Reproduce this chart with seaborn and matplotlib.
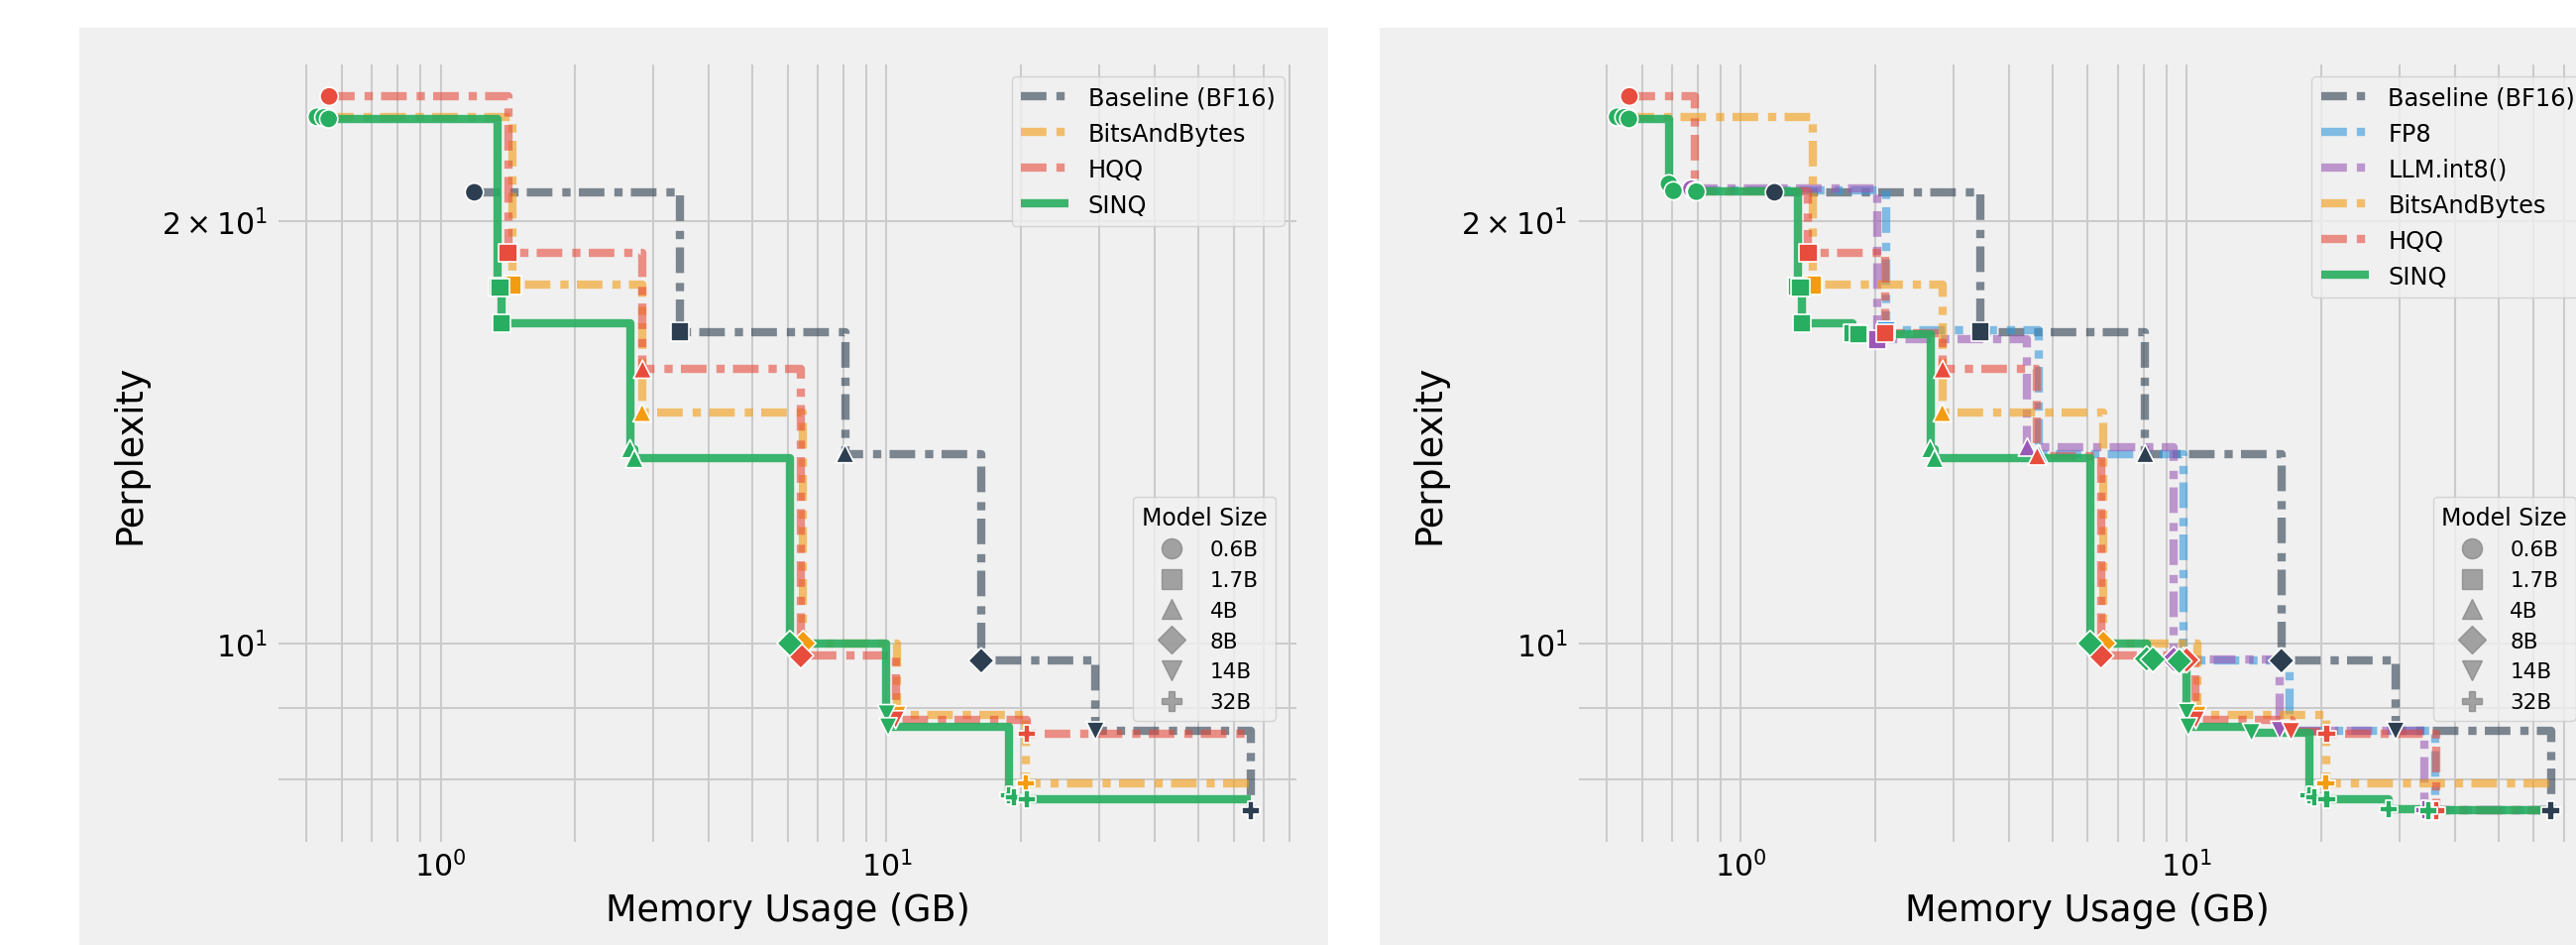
import numpy as np
import pandas as pd
import matplotlib
matplotlib.use("Agg")
import matplotlib.pyplot as plt
import seaborn as sns
from matplotlib.lines import Line2D
from matplotlib.patches import Rectangle

# ---------------- data ----------------
SIZES = ["0.6B", "1.7B", "4B", "8B", "14B", "32B"]

baseline_mem = [1.19, 3.44, 8.07, 16.3, 29.4, 65.5]
baseline_ppl = [20.96, 16.67, 13.65, 9.72, 8.66, 7.60]
baseline_size = ["0.6B", "1.7B", "4B", "8B", "14B", "32B"]

bnb_mem = [0.56, 1.447, 2.83, 6.50, 10.58, 20.5]
bnb_ppl = [23.70, 18.0, 14.6, 10.0, 8.89, 7.95]
bnb_size = ["0.6B", "1.7B", "4B", "8B", "14B", "32B"]

hqq_left_mem = [0.5625, 1.416, 2.836, 6.42, 10.48, 20.6]
hqq_left_ppl = [24.53, 18.97, 15.68, 9.80, 8.82, 8.625]
hqq_left_size = ["0.6B", "1.7B", "4B", "8B", "14B", "32B"]

sinq_left_mem = [0.528, 0.547, 0.561, 1.34, 1.36, 1.37, 2.66, 2.72, 6.07,
                 10.0, 10.08, 18.8, 19.3, 20.6]
sinq_left_ppl = [23.72, 23.70, 23.64, 17.95, 17.93, 16.91, 13.76, 13.54, 10.0,
                 8.91, 8.72, 7.79, 7.77, 7.745]
sinq_left_size = ["0.6B", "0.6B", "0.6B", "1.7B", "1.7B", "1.7B", "4B", "4B", "8B",
                  "14B", "14B", "32B", "32B", "32B"]

fp8_mem = [0.79, 2.116, 4.65, 9.84, 17.0, 36.0]
fp8_ppl = [21.02, 16.71, 13.65, 9.73, 8.67, 7.60]
fp8_size = ["0.6B", "1.7B", "4B", "8B", "14B", "32B"]

llm_int8_mem = [0.775, 2.025, 4.39, 9.35, 16.16, 34.1]
llm_int8_ppl = [21.08, 16.46, 13.80, 9.74, 8.67, 7.61]
llm_int8_size = ["0.6B", "1.7B", "4B", "8B", "14B", "32B"]

hqq_right_mem = [0.5625, 0.79, 1.416, 2.107, 2.836, 4.62, 6.42, 9.99, 10.48, 17.14, 20.6, 36.3]
hqq_right_ppl = [24.53, 21.0, 18.97, 16.64, 15.68, 13.60, 9.80, 9.73, 8.82, 8.655, 8.625, 7.60]
hqq_right_size = ["0.6B", "0.6B", "1.7B", "1.7B", "4B", "4B", "8B", "8B", "14B", "14B", "32B", "32B"]

sinq_right_mem = [0.528, 0.547, 0.561, 0.69, 0.706, 0.795, 1.34, 1.36, 1.37, 1.78, 1.838,
                  2.66, 2.72, 6.07, 8.13, 8.40, 9.62, 10.0, 10.08, 13.97,
                  18.8, 19.3, 20.6, 28.35, 34.8]
sinq_right_ppl = [23.72, 23.70, 23.64, 21.25, 21.01, 20.98, 17.95, 17.93, 16.91, 16.63, 16.60,
                  13.76, 13.54, 10.0, 9.75, 9.74, 9.71, 8.93, 8.72, 8.64,
                  7.79, 7.77, 7.745, 7.62, 7.60]
sinq_right_size = ["0.6B"] * 6 + ["1.7B"] * 5 + ["4B"] * 2 + ["8B"] * 4 + ["14B"] * 3 + ["32B"] * 5

# ---------------- styles ----------------
SIZE_MARKERS = {"0.6B": "o", "1.7B": "s", "4B": "^", "8B": "D", "14B": "v", "32B": "P"}
STYLE = {
    "Baseline (BF16)": dict(line="#2c3e50", mark="#2c3e50", alpha=0.6, dash=True),
    "FP8": dict(line="#3498db", mark="#3498db", alpha=0.6, dash=True),
    "LLM.int8()": dict(line="#9b59b6", mark="#9b59b6", alpha=0.6, dash=True),
    "BitsAndBytes": dict(line="#f39c12", mark="#f39c12", alpha=0.6, dash=True),
    "HQQ": dict(line="#e74c3c", mark="#e74c3c", alpha=0.6, dash=True),
    "SINQ": dict(line="#27ae60", mark="#27ae60", alpha=0.9, dash=False),
}
LW = 6.0
DASH = (0, (3.1, 1.2, 1.0, 1.0))
BG = "#f0f0f0"

plt.rcParams.update({
    "font.family": ["DejaVu Sans"],
    "axes.facecolor": BG,
    "axes.axisbelow": True,
    "grid.color": "#cbcbcb",
    "grid.linewidth": 1.45,
    "lines.solid_capstyle": "butt",
    "legend.fancybox": True,
    "legend.edgecolor": "0.8",
    "legend.facecolor": BG,
    "legend.framealpha": 0.8,
})

W, H = 2599, 954
fig = plt.figure(figsize=(W / 100, H / 100), dpi=100, facecolor="white")
for x0 in (80, 1392):
    fig.add_artist(Rectangle((x0 / W, 0), 1260 / W, (H - 29) / H, transform=fig.transFigure,
                             facecolor=BG, edgecolor="none", zorder=-5))

ax_l = fig.add_axes([281 / W, (H - 850) / H, 1027 / W, 784 / H])
ax_r = fig.add_axes([(281 + 1311.8) / W, (H - 850) / H, 1027 / W, 784 / H])


def draw_panel(ax, methods):
    ax.set_xscale("log")
    ax.set_yscale("log")
    xmax = max(max(m[1]) for m in methods)
    for name, mem, ppl, size in methods:
        df = pd.DataFrame({"mem": mem, "ppl": ppl}).sort_values("mem", kind="stable")
        fx, fy, best = [], [], np.inf
        for x, y in zip(df["mem"], df["ppl"]):
            if y < best:
                fx.append(x)
                fy.append(y)
                best = y
        fx.append(xmax)
        fy.append(fy[-1])
        st = STYLE[name]
        kw = dict(color=st["line"], alpha=st["alpha"], linewidth=LW, ax=ax, estimator=None,
                  sort=False, drawstyle="steps-post", legend=False, zorder=2)
        if st["dash"]:
            kw["linestyle"] = DASH
        sns.lineplot(x=fx, y=fy, **kw)
    for name, mem, ppl, size in methods:
        sns.scatterplot(x=mem, y=ppl, style=size, markers=SIZE_MARKERS, style_order=SIZES,
                        color=STYLE[name]["mark"], s=175, edgecolor="white", linewidth=1.2,
                        legend=False, ax=ax, zorder=3)

    ax.set_xlim(0.433, 83)
    ax.set_ylim(7.22, 25.85)
    ax.grid(True, which="both")
    for sp in ax.spines.values():
        sp.set_visible(False)
    ax.tick_params(axis="both", which="both", length=0, labelsize=21.5)
    ax.tick_params(axis="y", which="both", pad=8)
    ax.tick_params(axis="x", which="both", pad=5.5)
    ax.set_xlabel("Memory Usage (GB)", fontsize=26.3)
    ax.set_ylabel("Perplexity", fontsize=26.3)
    ax.xaxis.set_label_coords(0.5, -0.064)
    ax.yaxis.set_label_coords(-0.1285, 0.5)

    handles = []
    for name, _, _, _ in methods:
        st = STYLE[name]
        handles.append(Line2D([], [], color=st["line"], alpha=st["alpha"], linewidth=LW,
                              linestyle=DASH if st["dash"] else "-", label=name))
    leg1 = ax.legend(handles=handles, loc="upper right", fontsize=17.3)
    ax.add_artist(leg1)
    size_handles = [Line2D([], [], marker=SIZE_MARKERS[s], color="gray", alpha=0.7,
                           linestyle="None", markersize=14.5, label=s) for s in SIZES]
    ax.legend(handles=size_handles, title="Model Size", loc="center right",
              bbox_to_anchor=(0.99, 0.3), fontsize=15.5, title_fontsize=17)


left_methods = [
    ("Baseline (BF16)", baseline_mem, baseline_ppl, baseline_size),
    ("BitsAndBytes", bnb_mem, bnb_ppl, bnb_size),
    ("HQQ", hqq_left_mem, hqq_left_ppl, hqq_left_size),
    ("SINQ", sinq_left_mem, sinq_left_ppl, sinq_left_size),
]
right_methods = [
    ("Baseline (BF16)", baseline_mem, baseline_ppl, baseline_size),
    ("FP8", fp8_mem, fp8_ppl, fp8_size),
    ("LLM.int8()", llm_int8_mem, llm_int8_ppl, llm_int8_size),
    ("BitsAndBytes", bnb_mem, bnb_ppl, bnb_size),
    ("HQQ", hqq_right_mem, hqq_right_ppl, hqq_right_size),
    ("SINQ", sinq_right_mem, sinq_right_ppl, sinq_right_size),
]

draw_panel(ax_l, left_methods)
draw_panel(ax_r, right_methods)

fig.savefig("out.png", dpi=100, facecolor="white")
